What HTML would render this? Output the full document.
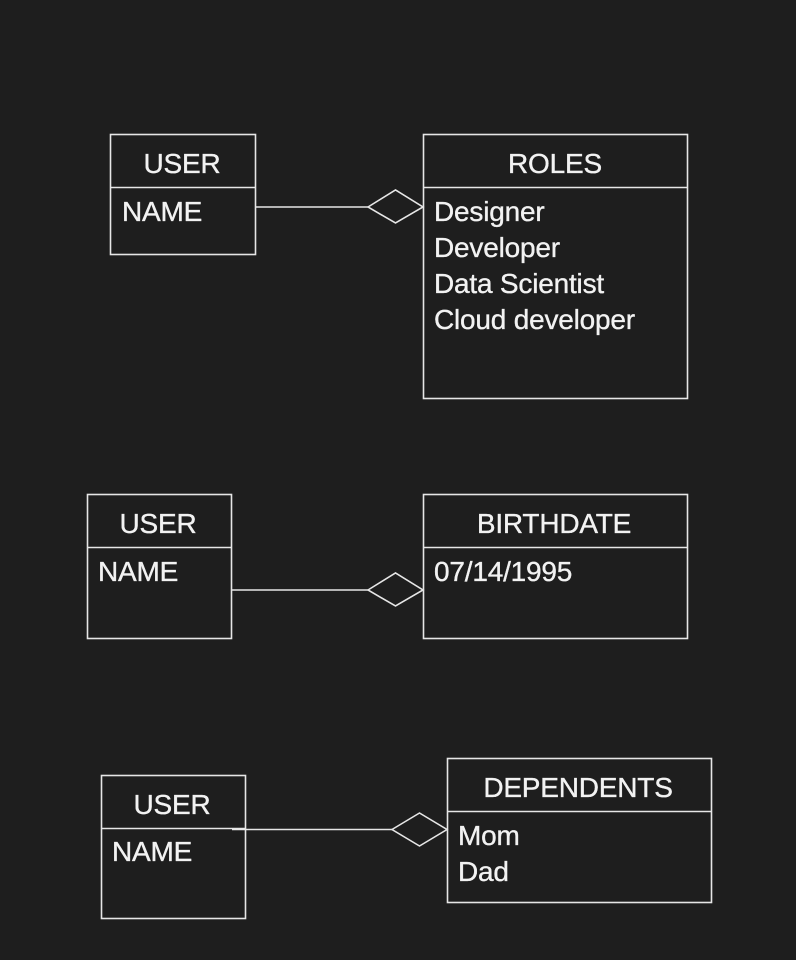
<!DOCTYPE html>
<html><head><meta charset="utf-8"><style>
html,body{margin:0;padding:0;background:#1e1e1e;}
svg{display:block}
text{font-family:"Liberation Sans",Arial,sans-serif;font-size:28px;fill:#f2f2f2;stroke:#f2f2f2;stroke-width:0.35px;letter-spacing:-0.2px;}
</style></head><body>
<svg width="796" height="960" viewBox="0 0 796 960">
<rect width="796" height="960" fill="#1e1e1e"/>
<g fill="none" stroke="#e6e6e6" stroke-width="1.6">
<rect x="110.5" y="134.5" width="145" height="120"/>
<line x1="110.5" y1="187.5" x2="255.5" y2="187.5"/>
<rect x="423.5" y="134.5" width="264" height="264"/>
<line x1="423.5" y1="187.5" x2="687.5" y2="187.5"/>
<line x1="255.5" y1="207" x2="368" y2="207"/>
<polygon points="368,207 395.5,190 423,207 395.5,223" fill="#1e1e1e"/>
<rect x="87.5" y="494.5" width="144" height="144"/>
<line x1="87.5" y1="547.5" x2="231.5" y2="547.5"/>
<rect x="423.5" y="494.5" width="264" height="144"/>
<line x1="423.5" y1="547.5" x2="687.5" y2="547.5"/>
<line x1="231.5" y1="590" x2="368" y2="590"/>
<polygon points="368,590 395.5,573 423,590 395.5,606" fill="#1e1e1e"/>
<rect x="101.5" y="775.5" width="144" height="143"/>
<line x1="101.5" y1="828.5" x2="245.5" y2="828.5"/>
<rect x="447.5" y="758.5" width="264" height="144"/>
<line x1="447.5" y1="811.5" x2="711.5" y2="811.5"/>
<line x1="232" y1="829.5" x2="392" y2="829.5"/>
<polygon points="392,829.5 419.5,813 447,829.5 419.5,846" fill="#1e1e1e"/>
</g>
<text x="182" y="173" text-anchor="middle">USER</text>
<text x="122" y="221">NAME</text>
<text x="555" y="173" text-anchor="middle">ROLES</text>
<text x="434" y="221">Designer</text>
<text x="434" y="257">Developer</text>
<text x="434" y="293">Data Scientist</text>
<text x="434" y="329">Cloud developer</text>

<text x="158" y="533" text-anchor="middle">USER</text>
<text x="98" y="581">NAME</text>
<text x="554" y="533" text-anchor="middle">BIRTHDATE</text>
<text x="434" y="581">07/14/1995</text>

<text x="172" y="814" text-anchor="middle">USER</text>
<text x="112" y="861">NAME</text>
<text x="578" y="797" text-anchor="middle">DEPENDENTS</text>
<text x="458" y="845">Mom</text>
<text x="458" y="881">Dad</text>
</svg>
</body></html>
